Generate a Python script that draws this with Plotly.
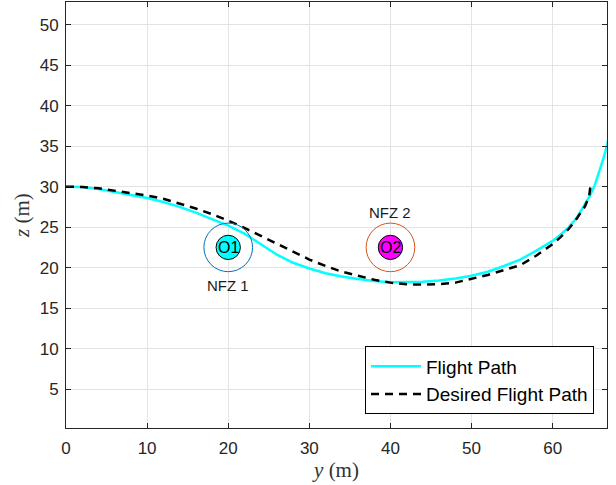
import plotly.graph_objects as go

# Flight path (actual)
fp_y = [0, 2, 4, 6, 8, 10, 12, 14, 16, 18, 20, 22, 24, 26, 28, 30, 32, 34, 36, 38, 40,
        42, 44, 46, 48, 50, 52, 54, 56, 58, 60, 61, 62, 63, 64, 64.6, 65.2, 65.8, 66.3, 66.7, 67.0]
fp_z = [30, 29.95, 29.7, 29.35, 29.0, 28.6, 28.1, 27.5, 26.8, 26.0, 25.2, 24.2, 22.9, 21.6, 20.6,
        19.9, 19.3, 18.9, 18.6, 18.35, 18.2, 18.2, 18.25, 18.4, 18.65, 19.0, 19.5, 20.2, 21.0,
        22.1, 23.3, 24.1, 25.0, 26.2, 27.8, 28.9, 30.2, 32.0, 33.6, 35.1, 36.4]

# Desired flight path
dp_y = [0, 2, 4, 6, 8, 10, 12, 14, 16, 18, 20, 22, 24, 26, 28, 30, 32, 34, 36, 38, 40,
        42, 44, 46, 48, 50, 52, 54, 56, 58, 60, 61, 62, 63, 64, 64.5, 64.65]
dp_z = [30, 29.95, 29.8, 29.5, 29.2, 28.9, 28.5, 27.9, 27.3, 26.6, 25.8, 24.9, 23.9, 22.9,
        21.9, 21.0, 20.2, 19.5, 19.0, 18.5, 18.15, 17.95, 17.9, 17.95, 18.15, 18.6, 19.1,
        19.7, 20.3, 21.5, 22.9, 23.8, 24.8, 26.1, 27.6, 28.8, 30.0]

# Obstacles
obs_names = ["O1", "O2"]
obs_y = [20, 40]
obs_z = [22.5, 22.5]
obs_r = [1.5, 1.5]
obs_fill = ["#00FFFF", "#FF00FF"]
nfz_names = ["NFZ 1", "NFZ 2"]
nfz_r = [3.0, 3.0]
nfz_color = ["#0072BD", "#D95319"]
nfz_label_z = [17.8, 26.8]

x_ticks = [0, 10, 20, 30, 40, 50, 60]
y_ticks = [5, 10, 15, 20, 25, 30, 35, 40, 45, 50]

fig = go.Figure()
fig.add_trace(go.Scatter(x=fp_y, y=fp_z, mode="lines", name="Flight Path",
                         line=dict(color="#00FFFF", width=2.5)))
fig.add_trace(go.Scatter(x=dp_y, y=dp_z, mode="lines", name="Desired Flight Path",
                         line=dict(color="black", width=2.5, dash="8px,6px")))

shapes = []
annotations = []
for i in range(len(obs_names)):
    cx, cz = obs_y[i], obs_z[i]
    shapes.append(dict(type="circle", xref="x", yref="y",
                       x0=cx - nfz_r[i], x1=cx + nfz_r[i], y0=cz - nfz_r[i], y1=cz + nfz_r[i],
                       line=dict(color=nfz_color[i], width=1), layer="above"))
    shapes.append(dict(type="circle", xref="x", yref="y",
                       x0=cx - obs_r[i], x1=cx + obs_r[i], y0=cz - obs_r[i], y1=cz + obs_r[i],
                       line=dict(color="black", width=1), fillcolor=obs_fill[i], layer="above"))
    annotations.append(dict(x=cx, y=cz, xref="x", yref="y", text=obs_names[i], showarrow=False,
                            font=dict(family="Liberation Sans", size=16, color="black")))
    annotations.append(dict(x=cx, y=nfz_label_z[i], xref="x", yref="y", text=nfz_names[i],
                            showarrow=False,
                            font=dict(family="Liberation Sans", size=15, color="#1a1a1a")))

axis_common = dict(showline=True, linecolor="#262626", linewidth=1, mirror="ticks",
                   ticks="inside", ticklen=5, tickcolor="#262626",
                   showgrid=True, gridcolor="#e3e3e3", gridwidth=1, zeroline=False,
                   tickfont=dict(family="Liberation Sans", size=17, color="#262626"))

fig.update_layout(
    width=616, height=485,
    margin=dict(l=66, r=9, t=2, b=57),
    paper_bgcolor="white", plot_bgcolor="white",
    shapes=shapes, annotations=annotations,
    xaxis=dict(range=[0, 66.7], tickvals=x_ticks, ticklabelstandoff=5,
               title=dict(text="<i>y</i> (m)", standoff=2,
                          font=dict(family="Liberation Serif", size=21, color="#333333")),
               **axis_common),
    yaxis=dict(range=[0.2, 52.8], tickvals=y_ticks, ticklabelstandoff=3,
               title=dict(text="<i>z</i> (m)", standoff=4,
                          font=dict(family="Liberation Serif", size=21, color="#333333")),
               **axis_common),
    legend=dict(x=0.976, y=0.032, xanchor="right", yanchor="bottom",
                bgcolor="white", bordercolor="black", borderwidth=1,
                font=dict(family="Liberation Sans", size=19, color="black"),
                itemwidth=50, tracegroupgap=0),
    showlegend=True,
)

fig.write_html("out.html")
